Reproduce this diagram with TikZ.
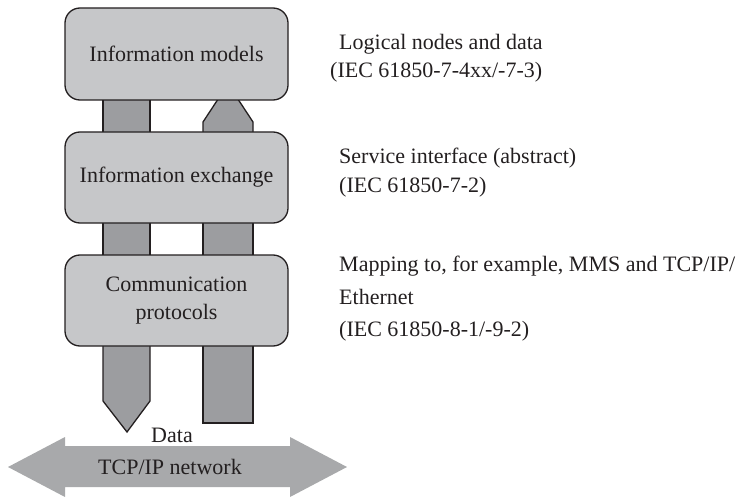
\documentclass[tikz,border=0pt]{standalone}
\usepackage{fontspec}
\setmainfont{Liberation Serif}
\definecolor{boxfill}{HTML}{C6C7C9}
\definecolor{pillar}{HTML}{9C9DA0}
\definecolor{netarrow}{HTML}{A8A9AB}
\definecolor{ink}{HTML}{231F20}
\begin{document}
\begin{tikzpicture}[x=1pt,y=-1pt,
  layerbox/.style={draw=ink,line width=1.3pt,fill=boxfill,rounded corners=15pt,
    minimum width=223pt,inner sep=0pt,align=center,text=ink,font=\fontsize{22}{28}\selectfont},
  pillarshape/.style={draw=ink,line width=1.3pt,fill=pillar,line join=miter},
  desc/.style={anchor=base west,inner sep=0pt,text=ink,font=\fontsize{22}{28}\selectfont}]
\useasboundingbox (0,0) rectangle (738,497);
% big network arrow
\fill[netarrow] (8,467) -- (65,437) -- (65,446) -- (290,446) -- (290,437) -- (347,467)
  -- (290,497) -- (290,487) -- (65,487) -- (65,497) -- cycle;
\node[anchor=center,text=ink,font=\fontsize{22}{28}\selectfont] (net) at (170,467) {TCP/IP network};
\node[anchor=base,inner sep=0pt,text=ink,font=\fontsize{22}{28}\selectfont] (data) at (172,442) {Data};
% pillars
\draw[pillarshape] (103,95) rectangle (150,137);
\draw[pillarshape] (203,137) -- (203,122) -- (228,84) -- (253,122) -- (253,137) -- cycle;
\draw[pillarshape] (103,218) rectangle (150,260);
\draw[pillarshape] (203,218) rectangle (253,260);
\draw[pillarshape] (103,340) -- (103,401) -- (127,432) -- (150,401) -- (150,340);
\draw[pillarshape] (203,340) -- (203,423) -- (253,423) -- (253,340);
% layer boxes
\node[layerbox,minimum height=92pt] (models) at (176.5,54) {Information models};
\node[layerbox,minimum height=91pt] (exchange) at (176.5,177.5) {Information exchange};
\node[layerbox,minimum height=91pt] (protocols) at (176.5,300.5) {Communication\\protocols};
% descriptions
\node[desc] (d1a) at (339,50) {Logical nodes and data};
\node[desc] (d1b) at (330,78) {(IEC 61850-7-4xx/-7-3)};
\node[desc] (d2a) at (339,164) {Service interface (abstract)};
\node[desc] (d2b) at (339,192) {(IEC 61850-7-2)};
\node[desc] (d3a) at (339,271) {Mapping to, for example, MMS and TCP/IP/};
\node[desc] (d3b) at (339,304) {Ethernet};
\node[desc] (d3c) at (339,336) {(IEC 61850-8-1/-9-2)};
\end{tikzpicture}
\end{document}
